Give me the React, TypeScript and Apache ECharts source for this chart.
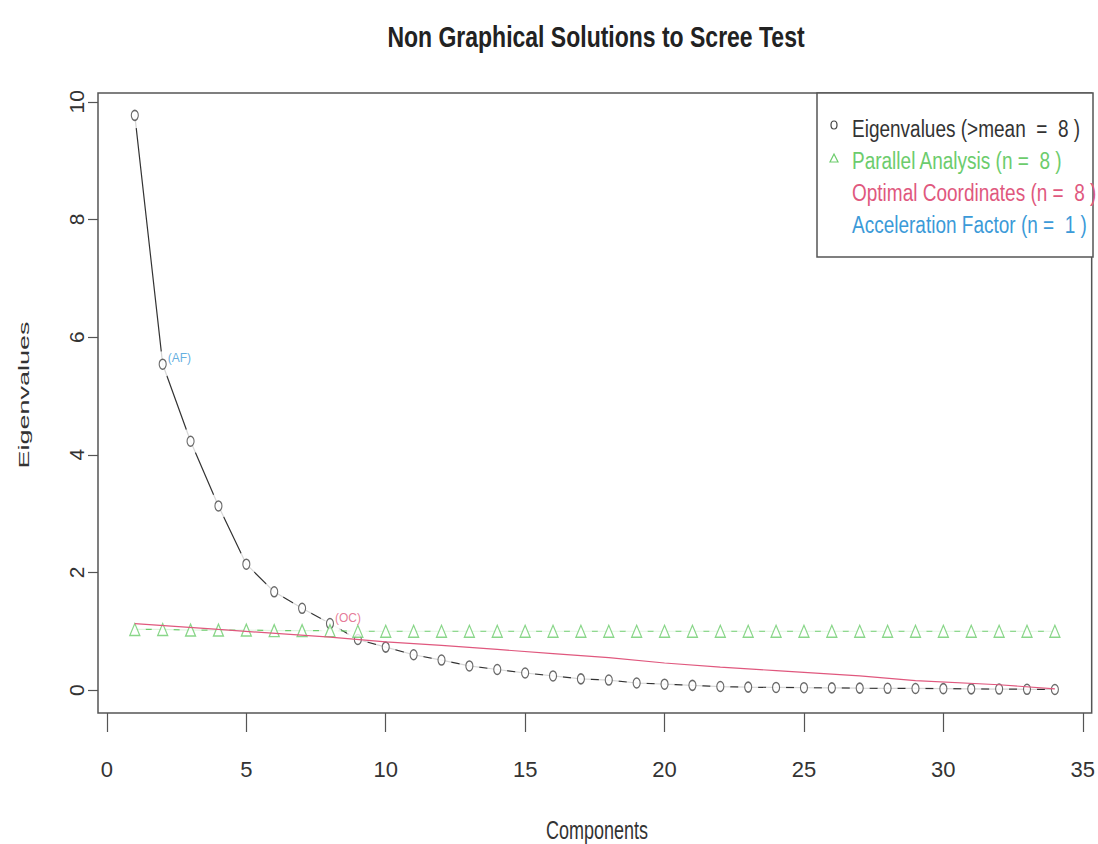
import React, { useEffect, useRef } from "react";
import * as echarts from "echarts";

const components = [1, 2, 3, 4, 5, 6, 7, 8, 9, 10, 11, 12, 13, 14, 15, 16, 17, 18, 19, 20, 21, 22, 23, 24, 25, 26, 27, 28, 29, 30, 31, 32, 33, 34];
const eigenvalues = [9.77, 5.54, 4.23, 3.13, 2.14, 1.67, 1.39, 1.13, 0.86, 0.73, 0.6, 0.51, 0.41, 0.35, 0.29, 0.24, 0.19, 0.17, 0.12, 0.1, 0.08, 0.06, 0.05, 0.045, 0.04, 0.037, 0.033, 0.03, 0.027, 0.024, 0.02, 0.017, 0.013, 0.01];
const parallelAnalysis = [1.03, 1.03, 1.02, 1.02, 1.02, 1.01, 1.01, 1.01, 1.0, 1.0, 1.0, 1.0, 1.0, 1.0, 1.0, 1.0, 1.0, 1.0, 1.0, 1.0, 1.0, 1.0, 1.0, 1.0, 1.0, 1.0, 1.0, 1.0, 1.0, 1.0, 1.0, 1.0, 1.0, 1.0];
const ocX = [1, 4, 8, 10, 12, 14, 16, 18, 20, 22, 24, 27, 29, 32, 34];
const ocY = [1.13, 1.03, 0.9, 0.82, 0.76, 0.69, 0.62, 0.55, 0.46, 0.39, 0.33, 0.24, 0.16, 0.09, 0.02];
const xTicks = [0, 5, 10, 15, 20, 25, 30, 35];
const yTicks = [0, 2, 4, 6, 8, 10];
const legendLabels = [
  "Eigenvalues (>mean  =  8 )",
  "Parallel Analysis (n =  8 )",
  "Optimal Coordinates (n =  8 )",
  "Acceleration Factor (n =  1 )",
];
const afComponent = 2;
const ocComponent = 8;

const TITLE = "Non Graphical Solutions to Scree Test";
const X_NAME = "Components";
const Y_NAME = "Eigenvalues";

const COL_BLACK = "#333333";
const COL_GREEN = "#6ccc6c";
const COL_RED = "#e0587e";
const COL_BLUE = "#3b9ad8";

const ELLIPSE =
  "path://M0,-1C0.552,-1,1,-0.552,1,0C1,0.552,0.552,1,0,1C-0.552,1,-1,0.552,-1,0C-1,-0.552,-0.552,-1,0,-1Z";
const TRIANGLE = "path://M0,-1L1,0.8L-1,0.8Z";

const NARROW = '"Liberation Sans Narrow", "Liberation Sans", Arial, sans-serif';
const SANS = '"Liberation Sans", Arial, sans-serif';

export default function App() {
  const ref = useRef<HTMLDivElement>(null);

  useEffect(() => {
    if (!ref.current) return;
    const chart = echarts.init(ref.current, null, { renderer: "svg" });

    const eigData = components.map((c, i) => [c, eigenvalues[i]]);
    const paData = components.map((c, i) => [c, parallelAnalysis[i]]);
    const ocData = ocX.map((c, i) => [c, ocY[i]]);

    const eigSymbols = eigData.map((d) => {
      if (d[0] === afComponent) {
        return {
          value: d,
          label: {
            show: true,
            formatter: "(AF)",
            position: "right",
            distance: 1,
            offset: [0, -6],
            color: COL_BLUE,
            fontSize: 12,
            fontFamily: NARROW,
          },
        };
      }
      if (d[0] === ocComponent) {
        return {
          value: d,
          label: {
            show: true,
            formatter: "(OC)",
            position: "right",
            distance: 1,
            offset: [0, -6],
            color: COL_RED,
            fontSize: 12,
            fontFamily: NARROW,
          },
        };
      }
      return { value: d };
    });

    const legendRows = [129, 161, 193, 225];
    const legendColors = [COL_BLACK, COL_GREEN, COL_RED, COL_BLUE];

    chart.setOption({
      animation: false,
      backgroundColor: "#ffffff",
      grid: {
        left: 98,
        right: 5,
        top: 93,
        bottom: 131,
        show: true,
        borderColor: "#555555",
        borderWidth: 1.5,
        backgroundColor: "transparent",
      },
      xAxis: {
        type: "value",
        position: "bottom",
        min: -0.32,
        max: 35.32,
        axisLine: { show: false, onZero: false },
        splitLine: { show: false },
        axisTick: {
          show: true,
          inside: false,
          customValues: xTicks,
          length: 19,
          lineStyle: { color: "#555555", width: 1.2 },
        },
        axisLabel: {
          customValues: xTicks,
          inside: false,
          margin: 45,
          fontSize: 22,
          fontFamily: NARROW,
          color: "#333333",
        },
      },
      yAxis: {
        type: "value",
        position: "left",
        min: -0.39,
        max: 10.15,
        axisLine: { show: false, onZero: false },
        splitLine: { show: false },
        axisTick: {
          show: true,
          inside: false,
          customValues: yTicks,
          length: 10,
          lineStyle: { color: "#555555", width: 1.2 },
        },
        axisLabel: {
          customValues: yTicks,
          inside: false,
          rotate: 90,
          margin: 11,
          fontSize: 21,
          fontFamily: SANS,
          color: "#333333",
        },
      },
      series: [
        {
          name: "Eigenvalues line",
          type: "line",
          data: eigData,
          symbol: "none",
          z: 2,
          lineStyle: { color: COL_BLACK, width: 1.2 },
          silent: true,
        },
        {
          name: "Parallel line",
          type: "line",
          data: paData,
          symbol: "none",
          z: 2,
          lineStyle: { color: COL_GREEN, width: 1.2 },
          silent: true,
        },
        {
          name: "Eigen gaps",
          type: "scatter",
          data: eigData,
          symbol: ELLIPSE,
          symbolSize: [20, 26],
          symbolKeepAspect: false,
          z: 3,
          itemStyle: { color: "#ffffff", borderWidth: 0 },
          silent: true,
        },
        {
          name: "Parallel gaps",
          type: "scatter",
          data: paData,
          symbol: ELLIPSE,
          symbolSize: [22, 22],
          symbolKeepAspect: false,
          z: 3,
          itemStyle: { color: "#ffffff", borderWidth: 0 },
          silent: true,
        },
        {
          name: "Eigenvalues",
          type: "scatter",
          data: eigSymbols,
          symbol: ELLIPSE,
          symbolSize: [7, 10],
          symbolKeepAspect: false,
          z: 4,
          itemStyle: { color: "#ffffff", borderColor: "#444444", borderWidth: 1.3 },
        },
        {
          name: "Parallel Analysis",
          type: "scatter",
          data: paData,
          symbol: TRIANGLE,
          symbolSize: [10, 12],
          symbolKeepAspect: false,
          z: 4,
          itemStyle: { color: "#ffffff", borderColor: COL_GREEN, borderWidth: 1.3 },
        },
        {
          name: "Optimal Coordinates",
          type: "line",
          data: ocData,
          symbol: "none",
          z: 5,
          lineStyle: { color: COL_RED, width: 1.2 },
        },
      ],
      graphic: [
        {
          type: "text",
          x: 596,
          y: 37,
          scaleY: 1.25,
          style: {
            text: TITLE,
            font: 'bold 23px "Liberation Sans", Arial, sans-serif',
            fill: "#222222",
            textAlign: "center",
            textVerticalAlign: "middle",
          },
        },
        {
          type: "text",
          x: 597,
          y: 830,
          scaleY: 1.4,
          style: {
            text: X_NAME,
            font: '18px "Liberation Sans", Arial, sans-serif',
            fill: "#333333",
            textAlign: "center",
            textVerticalAlign: "middle",
          },
        },
        {
          type: "text",
          x: 24,
          y: 395,
          rotation: Math.PI / 2,
          scaleX: 1.8,
          style: {
            text: Y_NAME,
            font: '15px "Liberation Sans", Arial, sans-serif',
            fill: "#333333",
            textAlign: "center",
            textVerticalAlign: "middle",
          },
        },
        {
          type: "group",
          z: 100,
          children: [
            {
              type: "rect",
              shape: { x: 817, y: 93, width: 276, height: 164 },
              style: { fill: "#ffffff", stroke: "#555555", lineWidth: 1.5 },
            },
            {
              type: "ellipse",
              shape: { cx: 834, cy: 125, rx: 3, ry: 4 },
              style: { fill: "#ffffff", stroke: "#444444", lineWidth: 1.2 },
            },
            {
              type: "polygon",
              shape: { points: [[830, 162], [838, 162], [834, 154]] },
              style: { fill: "#ffffff", stroke: COL_GREEN, lineWidth: 1.2 },
            },
            ...legendLabels.map((t, i) => ({
              type: "text",
              x: 852,
              y: legendRows[i],
              scaleY: 1.25,
              style: {
                text: t,
                font: '19px "Liberation Sans", Arial, sans-serif',
                fill: legendColors[i],
                textAlign: "left",
                textVerticalAlign: "middle",
              },
            })),
          ],
        },
      ],
    });

    return () => chart.dispose();
  }, []);

  return (
    <div
      ref={ref}
      style={{ position: "absolute", left: 0, top: 0, width: 1098, height: 844, background: "#fff" }}
    />
  );
}
